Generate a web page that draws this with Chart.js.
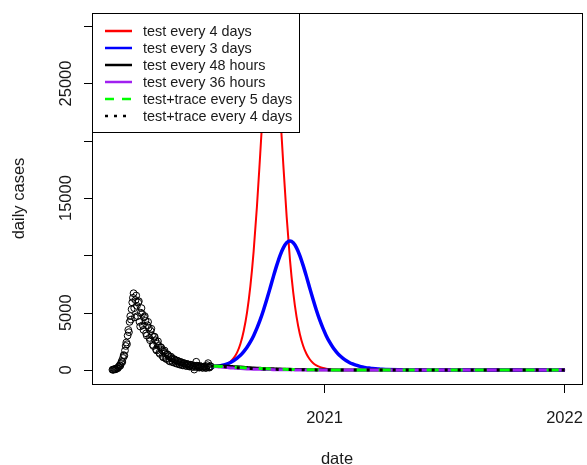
<!DOCTYPE html>
<html>
<head>
<meta charset="utf-8">
<script src="https://cdn.jsdelivr.net/npm/chart.js@4.4.1/dist/chart.umd.min.js"></script>
<style>
  html, body { margin: 0; padding: 0; background: #fff; }
  canvas { display: block; }
</style>
</head>
<body>
<canvas id="chart" width="587" height="465"></canvas>
<script>
// all dates are day numbers counted from 2020-01-01 (= day 0)

// observed daily cases, one value per day starting at obsStartDay
var obsStartDay = 46;
var obsCases = [
  20, 40, 30, 70, 90, 60, 130, 170, 150, 250,
  320, 420, 380, 610, 780, 700, 1050, 1300, 1250, 1700,
  2100, 2400, 2250, 3000, 3500, 3300, 4200, 4700, 4400, 5300,
  5900, 6300, 6700, 5400, 4600, 6100, 6500, 5600, 4700, 5900,
  6000, 4200, 3800, 5000, 5400, 4900, 3900, 3500, 4600, 4700,
  4300, 3200, 3000, 3900, 4200, 3700, 2800, 2600, 3400, 3600,
  3000, 2200, 2100, 2900, 2900, 2600, 1800, 1700, 2300, 2500,
  2100, 1500, 1400, 2000, 1950, 1750, 1200, 1100, 1600, 1700,
  1450, 1000, 950, 1350, 1350, 1200, 800, 750, 1150, 1150,
  1000, 700, 660, 950, 930, 850, 600, 560, 820, 800,
  720, 500, 470, 700, 690, 620, 420, 400, 600, 590,
  540, 380, 350, 520, 510, 470, 320, 300, 460, 450,
  410, 290, 270, 400, 40, 360, 250, 720, 380, 360,
  330, 230, 210, 330, 320, 300, 210, 190, 300, 290,
  280, 200, 180, 300, 420, 600, 240, 210, 310, 330
];

// model projections
var modelDays = [
  195, 200, 205, 210, 215, 220, 225, 230, 235, 240,
  245, 250, 255, 260, 265, 270, 275, 280, 285, 290,
  295, 300, 305, 310, 315, 320, 325, 330, 335, 340,
  345, 350, 355, 360, 365, 370, 375, 380, 385, 390,
  395, 400, 405, 410, 415, 420, 425, 430, 435, 440,
  445, 450, 455, 460, 480, 500, 550, 600, 650, 700, 732
];
var test4days = [
  300, 300, 320, 350, 420, 540, 740, 1060, 1540, 2290,
  3430, 5030, 7290, 10350, 14270, 18870, 23600, 27570, 29790, 29530,
  26900, 22680, 17900, 13420, 9660, 6780, 4660, 3150, 2120, 1420,
  940, 620, 410, 270, 180, 120, 80, 55, 35, 25,
  18, 12, 9, 7, 5, 4, 3, 2, 2, 1,
  1, 1, 0, 0, 0, 0, 0, 0, 0, 0, 0
];
var test3days = [
  300, 310, 340, 380, 440, 530, 660, 830, 1040, 1290,
  1610, 1990, 2450, 3000, 3650, 4390, 5240, 6170, 7160, 8170,
  9130, 9990, 10660, 11100, 11250, 11100, 10660, 9990, 9130, 8170,
  7160, 6170, 5240, 4390, 3650, 3000, 2450, 1990, 1610, 1290,
  1040, 830, 660, 530, 420, 340, 270, 210, 170, 130,
  105, 85, 65, 52, 20, 8, 0, 0, 0, 0, 0
];
var test48hours = [
  330, 350, 360, 360, 350, 335, 315, 295, 275, 255,
  235, 215, 195, 180, 165, 150, 135, 120, 110, 100,
  90, 80, 72, 65, 58, 52, 46, 41, 37, 33,
  29, 26, 23, 20, 18, 16, 14, 12, 11, 10,
  9, 8, 7, 6, 5, 5, 4, 4, 3, 3,
  3, 2, 2, 2, 1, 1, 0, 0, 0, 0, 0
];
var test36hours = [
  320, 300, 280, 260, 235, 210, 185, 165, 145, 128,
  112, 98, 85, 74, 64, 56, 48, 42, 36, 31,
  27, 23, 20, 17, 15, 13, 11, 9, 8, 7,
  6, 5, 4, 4, 3, 3, 2, 2, 2, 1,
  1, 1, 1, 1, 0, 0, 0, 0, 0, 0,
  0, 0, 0, 0, 0, 0, 0, 0, 0, 0, 0
];
var traceEvery5days = [
  330, 330, 325, 315, 300, 285, 268, 250, 232, 215,
  198, 182, 167, 152, 139, 126, 114, 103, 93, 84,
  76, 68, 61, 55, 49, 44, 39, 35, 31, 28,
  25, 22, 20, 18, 16, 14, 12, 11, 10, 9,
  8, 7, 6, 5, 5, 4, 4, 3, 3, 3,
  2, 2, 2, 2, 1, 1, 0, 0, 0, 0, 0
];
var traceEvery4days = [
  330, 325, 315, 300, 282, 264, 245, 226, 208, 190,
  173, 157, 142, 128, 115, 103, 92, 82, 73, 65,
  58, 51, 45, 40, 35, 31, 27, 24, 21, 18,
  16, 14, 12, 11, 9, 8, 7, 6, 5, 5,
  4, 4, 3, 3, 2, 2, 2, 2, 1, 1,
  1, 1, 1, 1, 0, 0, 0, 0, 0, 0, 0
];

var seriesLabels = [
  'test every 4 days',
  'test every 3 days',
  'test every 48 hours',
  'test every 36 hours',
  'test+trace every 5 days',
  'test+trace every 4 days'
];

var yTicks = [0, 5000, 10000, 15000, 20000, 25000, 30000];
var yTickLabels = [0, 5000, 15000, 25000];   // R leaves out the ones that would collide
var xTickDays = [366, 731];
var xTickLabels = ['2021', '2022'];

var FONT = '"Liberation Sans", Arial, Helvetica, sans-serif';
var INK = '#1a1a1a';

// tiny helpers in place of underscore
var _ = {
  each: function (list, fn) { for (var i = 0; i < list.length; i++) fn(list[i], i); },
  filter: function (list, fn) { var out = []; for (var i = 0; i < list.length; i++) if (fn(list[i])) out.push(list[i]); return out; }
};

function toPoints(days, values) {
  var pts = [];
  for (var i = 0; i < values.length; i++) {
    pts.push({x: days[i], y: values[i]});
  }
  return pts;
}

var obsPoints = [];
for (var i = 0; i < obsCases.length; i++) {
  obsPoints.push({x: obsStartDay + i, y: obsCases[i]});
}

function modelLine(label, values, color, width, dash, legendDash, order) {
  return {
    type: 'line',
    label: label,
    data: toPoints(modelDays, values),
    borderColor: color,
    borderWidth: width,
    borderDash: dash,
    legendDash: legendDash,
    borderCapStyle: 'butt',
    borderJoinStyle: 'round',
    pointRadius: 0,
    fill: false,
    cubicInterpolationMode: 'monotone',
    order: order
  };
}

// draws the R style box, ticks, tick labels, axis titles and legend
var rAxes = {
  id: 'rAxes',
  afterDraw: function (chart) {
    var ctx = chart.ctx;
    var a = chart.chartArea;
    var xs = chart.scales.x;
    var ys = chart.scales.y;
    ctx.save();

    ctx.strokeStyle = '#000';
    ctx.lineWidth = 1;
    ctx.strokeRect(Math.round(a.left) + 0.5, Math.round(a.top) + 0.5,
      Math.round(a.right - a.left), Math.round(a.bottom - a.top));

    ctx.fillStyle = INK;
    ctx.font = '16.5px ' + FONT;

    // y ticks
    _.each(yTicks, function (v) {
      var y = Math.round(ys.getPixelForValue(v)) + 0.5;
      ctx.beginPath();
      ctx.moveTo(a.left - 8, y);
      ctx.lineTo(a.left, y);
      ctx.stroke();
    });
    _.each(yTickLabels, function (v) {
      var y = ys.getPixelForValue(v);
      ctx.save();
      ctx.translate(71, y);
      ctx.rotate(-Math.PI / 2);
      ctx.textAlign = 'center';
      ctx.textBaseline = 'alphabetic';
      ctx.fillText(String(v), 0, 0);
      ctx.restore();
    });

    // x ticks
    ctx.textAlign = 'center';
    ctx.textBaseline = 'alphabetic';
    _.each(xTickDays, function (d, i) {
      var x = Math.round(xs.getPixelForValue(d)) + 0.5;
      ctx.beginPath();
      ctx.moveTo(x, a.bottom);
      ctx.lineTo(x, a.bottom + 9);
      ctx.stroke();
      ctx.fillText(xTickLabels[i], x, 422.5);
    });

    // axis titles
    ctx.fillText('date', (a.left + a.right) / 2, 463.5);
    ctx.save();
    ctx.translate(23.5, (a.top + a.bottom) / 2);
    ctx.rotate(-Math.PI / 2);
    ctx.fillText('daily cases', 0, 0);
    ctx.restore();

    // legend in the top left corner of the plot
    var lx = Math.round(a.left) + 0.5, ly = Math.round(a.top) + 0.5;
    var lw = 207, lh = 119;
    ctx.fillStyle = '#fff';
    ctx.fillRect(lx, ly, lw, lh);
    ctx.strokeStyle = '#000';
    ctx.setLineDash([]);
    ctx.strokeRect(lx, ly, lw, lh);

    ctx.font = '14.4px ' + FONT;
    ctx.textAlign = 'left';
    var items = _.filter(chart.data.datasets, function (ds) { return ds.type === 'line'; });
    _.each(items, function (ds, i) {
      var rowY = 31 + i * 17;
      ctx.strokeStyle = ds.borderColor;
      ctx.lineWidth = 2.5;
      ctx.lineCap = 'butt';
      ctx.setLineDash(ds.legendDash);
      ctx.beginPath();
      ctx.moveTo(105, rowY);
      ctx.lineTo(132, rowY);
      ctx.stroke();
      ctx.setLineDash([]);
      ctx.fillStyle = INK;
      ctx.fillText(ds.label, 143, rowY + 5);
    });

    ctx.restore();
  }
};

var datasets = [
  modelLine(seriesLabels[0], test4days, '#ff0000', 2, [], [], 6),
  modelLine(seriesLabels[1], test3days, '#0000ff', 3.5, [], [], 5),
  modelLine(seriesLabels[2], test48hours, '#000000', 3, [], [], 4),
  modelLine(seriesLabels[3], test36hours, '#a020f0', 3, [], [], 3),
  modelLine(seriesLabels[4], traceEvery5days, '#00ff00', 3, [12, 12], [9, 8], 2),
  modelLine(seriesLabels[5], traceEvery4days, '#000000', 3, [3, 10], [3, 6], 1),
  {
    type: 'scatter',
    label: 'observed',
    data: obsPoints,
    pointStyle: 'circle',
    pointRadius: 3.4,
    pointBorderWidth: 1,
    borderColor: '#000',
    backgroundColor: 'rgba(0,0,0,0)',
    pointBackgroundColor: 'rgba(0,0,0,0)',
    order: 7
  }
];

new Chart(document.getElementById('chart').getContext('2d'), {
  type: 'line',
  data: {datasets: datasets},
  options: {
    responsive: false,
    animation: false,
    events: [],
    layout: {padding: {left: 92, right: 2, top: 13, bottom: 81}},
    plugins: {legend: {display: false}, tooltip: {enabled: false}},
    scales: {
      x: {type: 'linear', display: false, min: 15, max: 757.7},
      y: {type: 'linear', display: false, min: -1220, max: 31150}
    }
  },
  plugins: [rAxes]
});
</script>
</body>
</html>
